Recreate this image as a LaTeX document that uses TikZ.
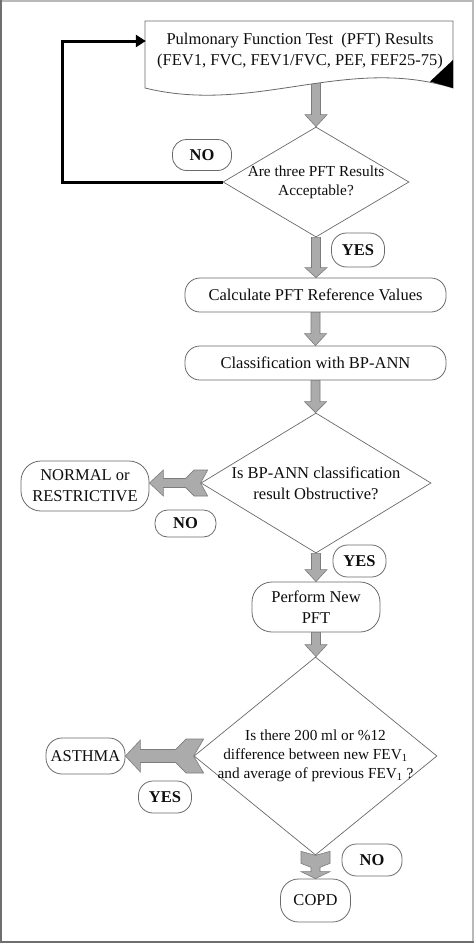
\documentclass[tikz,border=0pt]{standalone}
\usepackage{fontspec}
\setmainfont{Liberation Serif}
\usetikzlibrary{shapes.geometric,arrows.meta,backgrounds,calc}
\definecolor{ln}{HTML}{6A6A6A}
\definecolor{txt}{HTML}{0E0E0E}
\definecolor{arrfill}{HTML}{ABABAB}
\definecolor{arrline}{HTML}{7C7C7C}
\definecolor{frameD}{HTML}{6F6F6F}
\definecolor{frameL}{HTML}{B9B9B9}
\tikzset{
  base/.style={text=txt, font=\fontsize{16.5}{21}\selectfont, align=center},
  rbox/.style={base, draw=ln, line width=0.8pt, fill=white, rectangle, inner sep=0pt},
  lab/.style={rbox, font=\fontsize{16.5}{21}\selectfont\bfseries},
  dia/.style={base, diamond, draw=ln, line width=0.7pt, fill=white, inner sep=-40pt},
  smallt/.style={font=\fontsize{15.3}{19}\selectfont},
  garrow/.style={fill=arrfill, draw=arrline, line width=0.6pt, line join=miter},
  loopline/.style={line width=3pt, draw=black, -{Triangle[length=10pt,width=12pt]}},
  docshape/.style={draw=ln, line width=0.8pt, fill=white},
}
% downward plain block arrow: start, end, head length, head half width, shaft half width
\newcommand\garrowD[5]{%
  \path[garrow] let \p1=#1, \p2=#2 in
    ({\x1-#5pt},\y1) -- ({\x1+#5pt},\y1) -- ({\x1+#5pt},{\y2+#3pt}) -- ({\x1+#4pt},{\y2+#3pt})
    -- (\x1,\y2) -- ({\x1-#4pt},{\y2+#3pt}) -- ({\x1-#5pt},{\y2+#3pt}) -- cycle;}
% leftward block arrow with notched tail
\newcommand\garrowL[9]{%
  \path[garrow] let \p1=#1, \p2=#2 in
    (\x1,\y1) -- ({\x1+#8pt},{\y1+#7pt}) -- ({\x1+#8pt-#6pt+#9pt},{\y1+#7pt})
    -- ({\x1+#8pt-#6pt},{\y1+#5pt}) -- ({\x2+#3pt},{\y1+#5pt}) -- ({\x2+#3pt},{\y1+#4pt})
    -- (\x2,\y1) -- ({\x2+#3pt},{\y1-#4pt}) -- ({\x2+#3pt},{\y1-#5pt})
    -- ({\x1+#8pt-#6pt},{\y1-#5pt}) -- ({\x1+#8pt-#6pt+#9pt},{\y1-#7pt})
    -- ({\x1+#8pt},{\y1-#7pt}) -- cycle;}
% downward block arrow with notched tail
\newcommand\garrowDT[9]{%
  \path[garrow] let \p1=#1, \p2=#2 in
    (\x1,\y1) -- ({\x1+#7pt},{\y1+#8pt}) -- ({\x1+#7pt},{\y1+#8pt-#6pt+#9pt})
    -- ({\x1+#5pt},{\y1+#8pt-#6pt}) -- ({\x1+#5pt},{\y2+#3pt}) -- ({\x1+#4pt},{\y2+#3pt})
    -- (\x1,\y2) -- ({\x1-#4pt},{\y2+#3pt}) -- ({\x1-#5pt},{\y2+#3pt})
    -- ({\x1-#5pt},{\y1+#8pt-#6pt}) -- ({\x1-#7pt},{\y1+#8pt-#6pt+#9pt})
    -- ({\x1-#7pt},{\y1+#8pt}) -- cycle;}
\begin{document}
\begin{tikzpicture}[x=1pt,y=-1pt]
\useasboundingbox (0,0) rectangle (474,943);
% frame
\fill[frameL] (0,0) rectangle (474,2);
\fill[frameL] (471.5,0) rectangle (474,943);
\fill[frameD] (0,0) rectangle (2,943);
\fill[frameD] (0,940.8) rectangle (474,943);

% document shape
\path[docshape] (145,21) -- (453,21) -- (453,88) .. controls (345,55) and (255,115) .. (145,88) -- cycle;
\fill[black] (453,60) -- (453,88) -- (430,81.5) -- cycle;
\node[base, minimum width=308pt, minimum height=58pt, inner sep=0pt] (doc) at (300,51)
  {Pulmonary Function Test~~(PFT) Results\\(FEV1, FVC, FEV1/FVC, PEF, FEF25-75)};

% decisions
\node[dia, smallt, minimum width=186pt, minimum height=110pt] (d1) at (316,182)
  {Are three PFT Results\\Acceptable?};
\node[dia, minimum width=230pt, minimum height=140pt] (d2) at (316,483)
  {Is BP-ANN classification\\result Obstructive?};
\node[dia, smallt, minimum width=243pt, minimum height=198pt] (d3) at (315.5,756)
  {Is there 200 ml or \%12\\difference between new FEV\textsubscript{1}\\and average of previous FEV\textsubscript{1} ?};

% process boxes
\node[rbox, minimum width=261pt, minimum height=34pt, rounded corners=15pt] (calc) at (315.5,295)
  {Calculate PFT Reference Values};
\node[rbox, minimum width=261pt, minimum height=34pt, rounded corners=15pt] (cls) at (315.5,363)
  {Classification with BP-ANN};
\node[rbox, minimum width=128pt, minimum height=50pt, rounded corners=20pt] (normal) at (85,486)
  {NORMAL or\\RESTRICTIVE};
\node[rbox, minimum width=128pt, minimum height=50pt, rounded corners=20pt] (perform) at (316,607)
  {Perform New\\PFT};
\node[rbox, minimum width=79pt, minimum height=36pt, rounded corners=16pt] (asthma) at (85.5,756)
  {ASTHMA};
\node[rbox, minimum width=70pt, minimum height=43pt, rounded corners=18pt] (copd) at (315.5,900.5)
  {COPD};

% labels
\node[lab, minimum width=59pt, minimum height=31pt, rounded corners=14pt] (no1) at (202,155) {NO};
\node[lab, minimum width=53pt, minimum height=34pt, rounded corners=15pt] (yes1) at (358,250) {YES};
\node[lab, minimum width=61pt, minimum height=27pt, rounded corners=12.5pt] (no2) at (185.5,523.5) {NO};
\node[lab, minimum width=53pt, minimum height=32pt, rounded corners=14.5pt] (yes2) at (359.5,561) {YES};
\node[lab, minimum width=53pt, minimum height=32pt, rounded corners=14.5pt] (yes3) at (165,797) {YES};
\node[lab, minimum width=60pt, minimum height=32pt, rounded corners=14.5pt] (no4) at (372,860) {NO};

% loop back
\coordinate (lp) at (62,41);
\draw[loopline] (d1.west) -| (lp) -- ($(doc.west)+(0,-10)$);

% block arrows
\begin{scope}[on background layer]
\garrowD{(doc.south -| d1.north)}{(d1.north)}{12}{11}{4.5}
\garrowD{(d1.south)}{(calc.north)}{10}{11}{4.5}
\garrowD{(calc.south)}{(cls.north)}{12}{11}{4.5}
\garrowD{(cls.south)}{(d2.north)}{11}{11}{4.5}
\garrowD{(d2.south)}{(perform.north)}{12}{11}{4.5}
\garrowD{(perform.south)}{(d3.north)}{12}{11}{4.5}
\garrowL{(d2.west)}{(normal.east)}{14}{13}{4.5}{22}{13}{7}{8.5}
\garrowL{(d3.west)}{(asthma.east)}{15}{16}{6.5}{28}{17}{10}{10.5}
\garrowDT{(d3.south)}{(copd.north)}{7}{14.5}{4.5}{16}{14.5}{4}{4}
\end{scope}
\end{tikzpicture}
\end{document}
